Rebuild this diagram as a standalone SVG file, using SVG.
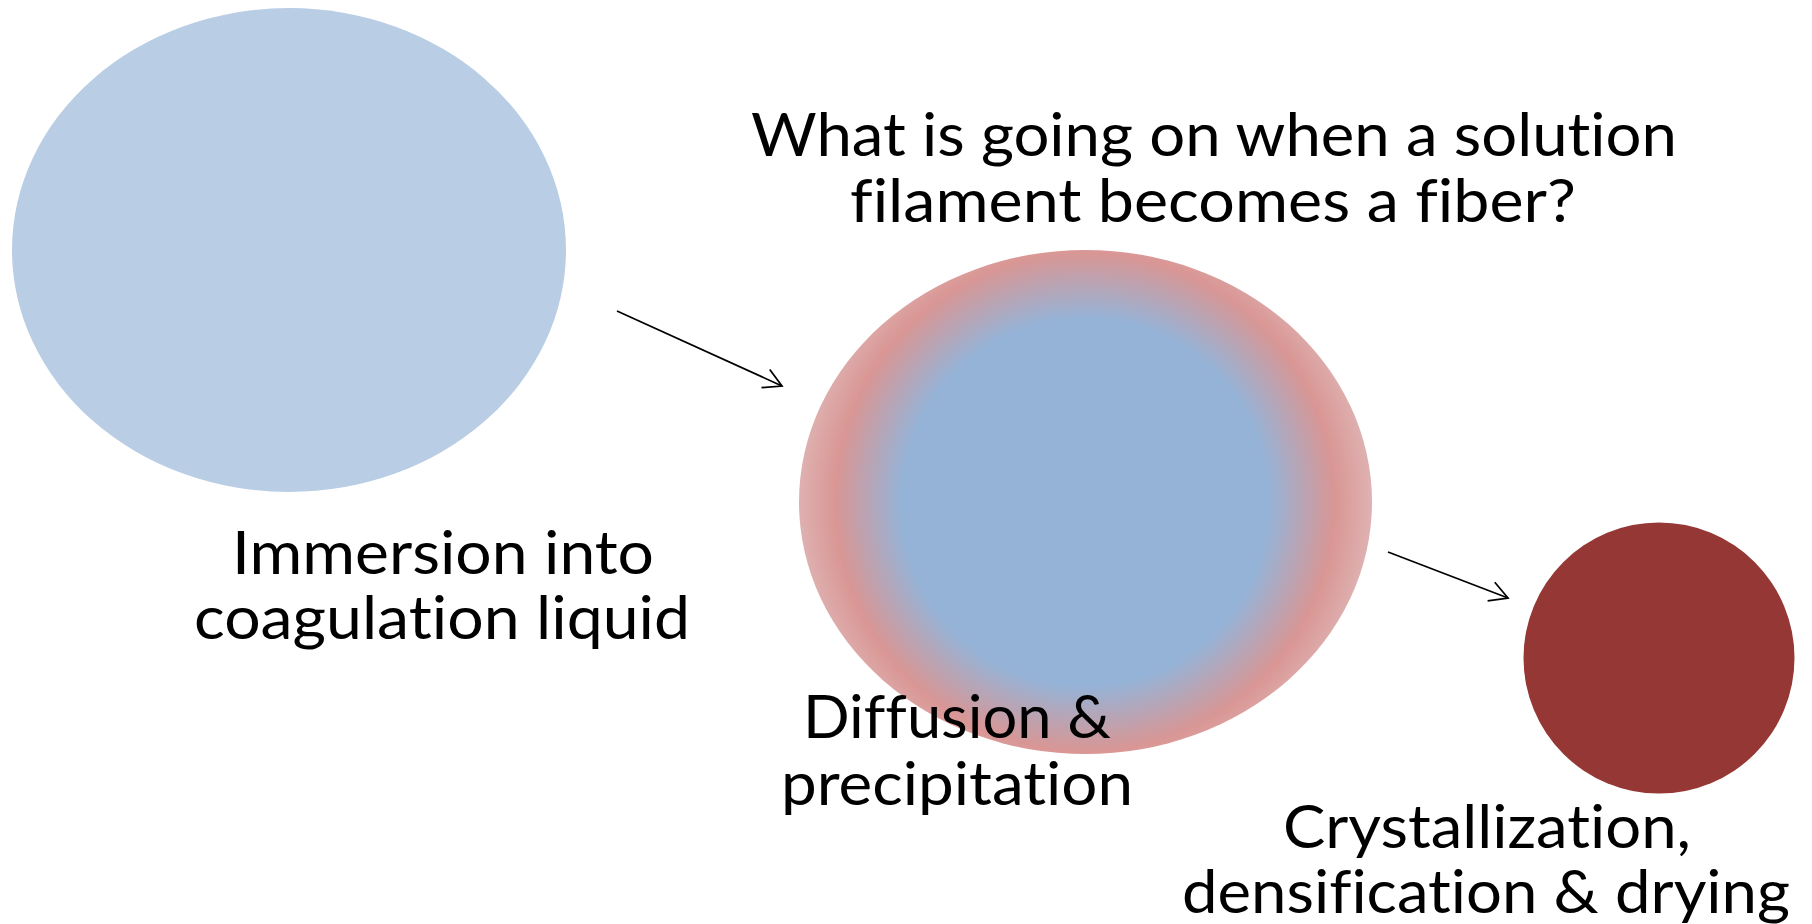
<svg xmlns="http://www.w3.org/2000/svg" width="1812" height="924" viewBox="0 0 1812 924">
  <style>
    .lbl { font-family: "Lato", "Liberation Sans", "DejaVu Sans", sans-serif; font-size: 60px; fill: #000000; text-anchor: middle; font-variant-ligatures: none; font-feature-settings: "liga" 0, "dlig" 0; }
    .conn { stroke: #000000; stroke-width: 1.75; fill: none; }
  </style>
  <defs>
    <radialGradient id="gradMid" gradientUnits="userSpaceOnUse" cx="1085" cy="502" r="287">
      <stop offset="0" stop-color="#95B3D7"/>
      <stop offset="0.64" stop-color="#95B3D7"/>
      <stop offset="0.87" stop-color="#D99694"/>
      <stop offset="1" stop-color="#DEB2B1"/>
    </radialGradient>
    <marker id="openArrow" markerUnits="userSpaceOnUse" markerWidth="24" markerHeight="24" viewBox="-20 -12 24 24" refX="0" refY="0" orient="auto" overflow="visible">
      <path d="M -18 -10 L 0 0 L -18 10" fill="none" stroke="#000000" stroke-width="1.75"/>
    </marker>
  </defs>
  <rect x="0" y="0" width="1812" height="924" fill="#FFFFFF"/>

  <g id="title">
    <text class="lbl" x="1214" y="156" textLength="926" lengthAdjust="spacingAndGlyphs">What is going on when a solution</text>
    <text class="lbl" x="1213" y="222" textLength="726" lengthAdjust="spacingAndGlyphs">filament becomes a fiber?</text>
  </g>

  <g id="node-immersion">
    <ellipse cx="289" cy="250" rx="277" ry="242" fill="#B9CDE5"/>
    <text class="lbl" x="443" y="574" textLength="422" lengthAdjust="spacingAndGlyphs">Immersion into</text>
    <text class="lbl" x="442" y="639" textLength="496" lengthAdjust="spacingAndGlyphs">coagulation liquid</text>
  </g>

  <g id="node-diffusion">
    <ellipse cx="1085.5" cy="502" rx="286.5" ry="252" fill="url(#gradMid)"/>
    <text class="lbl" x="957" y="738" textLength="308" lengthAdjust="spacingAndGlyphs">Diffusion &amp;</text>
    <text class="lbl" x="957" y="805" textLength="352" lengthAdjust="spacingAndGlyphs">precipitation</text>
  </g>

  <g id="node-crystallization">
    <circle cx="1659" cy="658" r="135.5" fill="#953735"/>
    <text class="lbl" x="1487" y="848" textLength="408" lengthAdjust="spacingAndGlyphs">Crystallization,</text>
    <text class="lbl" x="1486" y="913" textLength="608" lengthAdjust="spacingAndGlyphs">densification &amp; drying</text>
  </g>

  <g id="connectors">
    <line class="conn" x1="617" y1="311" x2="782" y2="386" marker-end="url(#openArrow)"/>
    <line class="conn" x1="1388" y1="552" x2="1508" y2="598" marker-end="url(#openArrow)"/>
  </g>
</svg>
